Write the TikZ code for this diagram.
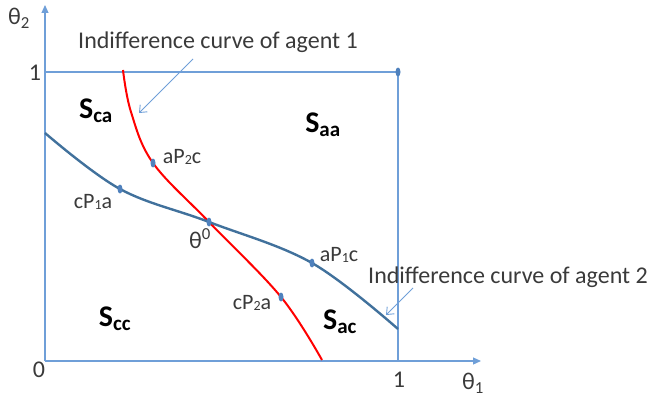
\documentclass[tikz,border=0pt]{standalone}
\usepackage{fontspec}
\setmainfont{Carlito}
\usetikzlibrary{arrows.meta,shapes.geometric}
\definecolor{achse}{HTML}{6F9FD8}
\definecolor{kurvezwei}{HTML}{41719C}
\definecolor{punkt}{HTML}{4F81BD}
\definecolor{schrift}{HTML}{3A3A3A}
\newcommand{\klein}[1]{{\fontsize{14}{14}\selectfont\raisebox{-1pt}{#1}}}

\begin{document}
\begin{tikzpicture}[x=1pt, y=-1pt, font=\fontsize{24}{28}\selectfont, text=schrift,
      achsen/.style={draw=achse, line width=1.2pt},
      hinweis/.style={draw=achse, line width=0.9pt, -{Straight Barb[length=6pt, width=10pt]}},
      punktform/.style={ellipse, fill=punkt, inner sep=0pt, minimum width=5pt, minimum height=9pt},
      beschr/.style={inner sep=0pt},
      punktlabel/.style={inner sep=0pt, font=\fontsize{22}{26}\selectfont},
      region/.style={inner sep=0pt, font=\fontsize{30}{34}\selectfont\bfseries, text=black}]
    \useasboundingbox (0,0) rectangle (648,396);
    % axes and unit box
    \coordinate (o) at (45,361);
    \coordinate (xend) at (481,361);
    \coordinate (yend) at (45,5);
    \coordinate (ecke) at (398,72);
    \coordinate (xeins) at (398,361);
    \coordinate (yeins) at (45,72);
    \draw[achsen, -{Triangle[length=8pt, width=7pt]}] (o) -- (xend);
    \draw[achsen, -{Triangle[length=8pt, width=7pt]}] (o) -- (yend);
    \draw[achsen] (yeins) -- (ecke) -- (xeins);
    % points on the curves
    \coordinate (ap2c) at (153,163);
    \coordinate (cp1a) at (120,189);
    \coordinate (theta0) at (209,222);
    \coordinate (ap1c) at (312,263);
    \coordinate (cp2a) at (281,297);
    \coordinate (rotanf) at (123,70);
    \coordinate (rotmid) at (131,112);
    \coordinate (rotend) at (322,360);
    \coordinate (blauanf) at (45,133);
    \coordinate (blauend) at (398,329);
    % indifference curves
    \draw[red, line width=2pt] plot[smooth, tension=0.6] coordinates
        {(rotanf) (rotmid) (ap2c) (theta0) (cp2a) (rotend)};
    \draw[kurvezwei, line width=2.4pt] plot[smooth, tension=0.6] coordinates
        {(blauanf) (cp1a) (theta0) (ap1c) (blauend)};
    \foreach \p in {ap2c, cp1a, theta0, ap1c, cp2a, ecke}
      \node[punktform] (dot-\p) at (\p) {};
    % axis labels
    \node[beschr] (th2) at (19,18) {θ\textsubscript{2}};
    \node[beschr] (leins) at (35,73) {1};
    \node[beschr] (lnull) at (39,370) {0};
    \node[beschr] (ueins) at (399,380) {1};
    \node[beschr] (th1) at (473,383) {θ\textsubscript{1}};
    % regions
    \node[region] (sca) at (96,111) {S\textsubscript{ca}};
    \node[region] (saa) at (323,125) {S\textsubscript{aa}};
    \node[region] (scc) at (115,319) {S\textsubscript{cc}};
    \node[region] (sac) at (340,322) {S\textsubscript{ac}};
    % point labels
    \node[punktlabel] (lap2c) at (182,157) {aP\klein{2}c};
    \node[punktlabel] (lcp1a) at (93,202) {cP\klein{1}a};
    \node[beschr] (ltheta) at (200,239) {θ\textsuperscript{0}};
    \node[punktlabel] (lap1c) at (339,255) {aP\klein{1}c};
    \node[punktlabel] (lcp2a) at (252,303) {cP\klein{2}a};
    % annotations
    \node[beschr] (agent1) at (218,42) {Indifference curve of agent 1};
    \node[beschr] (agent2) at (508,277) {Indifference curve of agent 2};
    \coordinate (pfeil1) at (193,59);
    \coordinate (ziel1) at (139,113);
    \coordinate (pfeil2) at (413,288);
    \coordinate (ziel2) at (386,315);
    \draw[hinweis] (pfeil1) -- (ziel1);
    \draw[hinweis] (pfeil2) -- (ziel2);
  \end{tikzpicture}
\end{document}
